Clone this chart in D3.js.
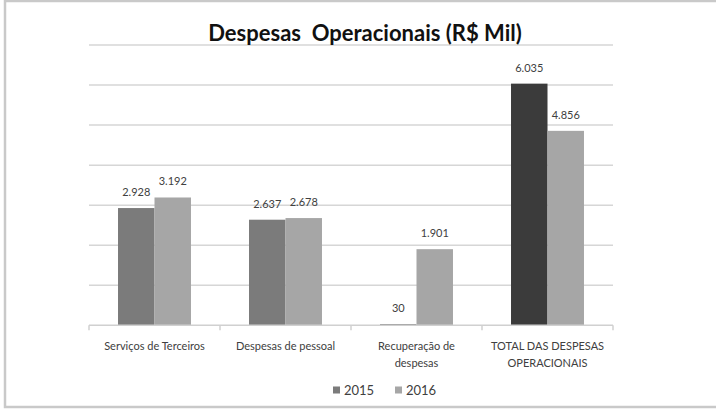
<!DOCTYPE html>
<html>
<head>
<meta charset="utf-8">
<script src="https://cdn.jsdelivr.net/npm/d3@7"></script>
<style>
  body { margin: 0; background: #fff; }
  svg { display: block; font-family: Lato, "Noto Sans", sans-serif; }
</style>
</head>
<body>
<svg id="chart" width="716" height="409"></svg>
<script>
// despesas operacionais
const categories = [
  ["Serviços de Terceiros"],
  ["Despesas de pessoal"],
  ["Recuperação de", "despesas"],
  ["TOTAL DAS DESPESAS", "OPERACIONAIS"]
];
const series = ["2015", "2016"];
const values2015 = [2928, 2637, 30, 6035];
const values2016 = [3192, 2678, 1901, 4856];
const labels2015 = ["2.928", "2.637", "30", "6.035"];
const labels2016 = ["3.192", "2.678", "1.901", "4.856"];
const yTicks = [0, 1000, 2000, 3000, 4000, 5000, 6000, 7000];

const W = 716, H = 409;
const plot = { left: 89, right: 613, top: 45, bottom: 325.3 };
const colors = { "2015": "#7b7b7b", "2016": "#a6a6a6" };
const totalColor = "#3b3b3b";

const svg = d3.select("#chart");

// outer frame (right edge falls off the picture)
svg.append("rect")
  .attr("x", 5).attr("y", 1)
  .attr("width", W + 20).attr("height", 406)
  .attr("fill", "none")
  .attr("stroke", "#c9c9c9")
  .attr("stroke-width", 2.5);

const y = d3.scaleLinear().domain([0, 7000]).range([plot.bottom, plot.top]);

const idx = categories.map((_, i) => i);
const x0 = d3.scaleBand().domain(idx).range([plot.left, plot.right]).padding(0);
const groupW = x0.bandwidth() * 0.557;
const x1 = d3.scaleBand().domain(series).range([0, groupW]).padding(0);
const off = (x0.bandwidth() - groupW) / 2;

// gridlines
svg.append("g")
  .selectAll("line")
  .data(yTicks.slice(1))
  .join("line")
    .attr("x1", plot.left).attr("x2", plot.right)
    .attr("y1", d => y(d)).attr("y2", d => y(d))
    .attr("stroke", "#d6d6d6")
    .attr("stroke-width", 1.5);

// bars
const rows = idx.map(i => [
  { s: "2015", i, v: values2015[i], lab: labels2015[i] },
  { s: "2016", i, v: values2016[i], lab: labels2016[i] }
]).flat();

svg.append("g")
  .selectAll("rect")
  .data(rows)
  .join("rect")
    .attr("x", d => x0(d.i) + off + x1(d.s))
    .attr("y", d => y(d.v))
    .attr("width", x1.bandwidth())
    .attr("height", d => y(0) - y(d.v))
    .attr("fill", d => (d.i === 3 && d.s === "2015") ? totalColor : colors[d.s]);

// value labels
svg.append("g")
  .selectAll("text")
  .data(rows)
  .join("text")
    .attr("x", d => x0(d.i) + off + x1(d.s) + x1.bandwidth() / 2)
    .attr("y", d => y(d.v) - 12)
    .attr("text-anchor", "middle")
    .attr("font-size", 11)
    .attr("fill", "#404040")
    .text(d => d.lab);

// x axis baseline + ticks
const ax = svg.append("g");
ax.append("line")
  .attr("x1", plot.left).attr("x2", plot.right)
  .attr("y1", y(0)).attr("y2", y(0))
  .attr("stroke", "#d0d0d0").attr("stroke-width", 1.5);
ax.selectAll("line.tick")
  .data(idx.concat([idx.length]))
  .join("line")
    .attr("class", "tick")
    .attr("x1", d => plot.left + d * x0.step())
    .attr("x2", d => plot.left + d * x0.step())
    .attr("y1", y(0)).attr("y2", y(0) + 5)
    .attr("stroke", "#d0d0d0").attr("stroke-width", 1.5);

// category labels
const cat = ax.selectAll("text.cat")
  .data(categories)
  .join("text")
    .attr("class", "cat")
    .attr("text-anchor", "middle")
    .attr("font-size", 11)
    .attr("fill", "#404040")
    .attr("transform", (_, i) => `translate(${x0(i) + x0.bandwidth() / 2},350)`);
cat.selectAll("tspan")
  .data(d => d)
  .join("tspan")
    .attr("x", 0)
    .attr("y", (_, j) => j * 17)
    .text(t => t);

// legend
const legend = svg.append("g").attr("transform", "translate(333,390)");
const legX = [0, 62];
series.forEach((s, k) => {
  const g = legend.append("g").attr("transform", `translate(${legX[k]},0)`);
  g.append("rect")
    .attr("x", 0).attr("y", -3.5)
    .attr("width", 7).attr("height", 7)
    .attr("fill", colors[s]);
  g.append("text")
    .attr("x", 11).attr("y", 4.5)
    .attr("font-size", 13)
    .attr("fill", "#404040")
    .text(s);
});

// title
svg.append("text")
  .attr("x", 365).attr("y", 41)
  .attr("text-anchor", "middle")
  .attr("font-size", 22)
  .attr("font-weight", "bold")
  .attr("fill", "#111")
  .style("white-space", "pre")
  .text("Despesas  Operacionais (R$ Mil)");
</script>
</body>
</html>
